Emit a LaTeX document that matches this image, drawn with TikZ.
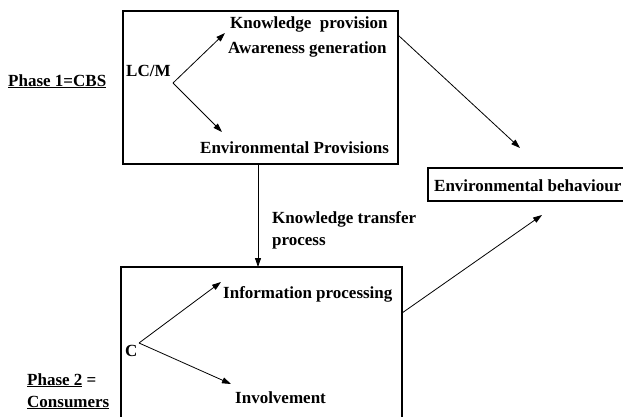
\documentclass[tikz,border=0pt]{standalone}
\usepackage{fontspec}
\setmainfont{Liberation Serif}
\usetikzlibrary{arrows.meta}
\begin{document}
\begin{tikzpicture}[x=1pt,y=-1pt,
  lbl/.style={anchor=base west,inner sep=0pt,font=\fontsize{17}{20}\selectfont\bfseries},
  boxline/.style={draw,line width=1.1pt},
  arr/.style={line width=0.8pt,-{Triangle[length=9pt,width=6pt]}}]
\useasboundingbox (0,0) rectangle (623,416);
% boxes
\draw[boxline] (123,11) rectangle (398,164);
\node[draw=none,inner sep=0pt,minimum width=275pt,minimum height=153pt] (top) at (260.5,87.5) {};
\draw[boxline] (121,430) -- (121,267) -- (402,267) -- (402,430);
\coordinate (bottomtop) at (258,267);
\draw[boxline] (640,168) -- (428,168) -- (428,201) -- (640,201);
% texts
\node[lbl] (kp) at (230,28) {Knowledge\ \ provision};
\node[lbl] (ag) at (228,53) {Awareness generation};
\node[lbl] (lcm) at (126,76) {LC/M};
\node[lbl] (ph1) at (8,86) {\underline{Phase 1=CBS}};
\node[lbl] (ep) at (200,153) {Environmental Provisions};
\node[lbl] (ktp) at (272,223) {Knowledge transfer};
\node[lbl] (ktp2) at (272,245) {process};
\node[lbl] (eb) at (434,191) {Environmental behaviour};
\node[lbl] (c) at (125,356) {C};
\node[lbl] (ip) at (223,298) {Information processing};
\node[lbl] (inv) at (235,403) {Involvement};
\node[lbl] (ph2) at (27,385) {\underline{Phase 2} =};
\node[lbl] (cons) at (27,407) {\underline{Consumers}};
% connector coordinates
\coordinate (lcmf) at (173,83);
\coordinate (kpt) at (225,33);
\coordinate (ept) at (222,132);
\coordinate (cf) at (139,343);
\coordinate (ipt) at (221,282);
\coordinate (invt) at (231,384);
\coordinate (topr) at (398,35);
\coordinate (ebt1) at (520,148);
\coordinate (botr) at (402,313);
\coordinate (ebt2) at (542,215);
\coordinate (topb) at (258,164);
% connectors
\draw[arr] (lcmf) -- (kpt);
\draw[arr] (lcmf) -- (ept);
\draw[arr] (cf) -- (ipt);
\draw[arr] (cf) -- (invt);
\draw[arr] (topr) -- (ebt1);
\draw[arr] (botr) -- (ebt2);
\draw[arr] (topb) -- (bottomtop);
\end{tikzpicture}
\end{document}
